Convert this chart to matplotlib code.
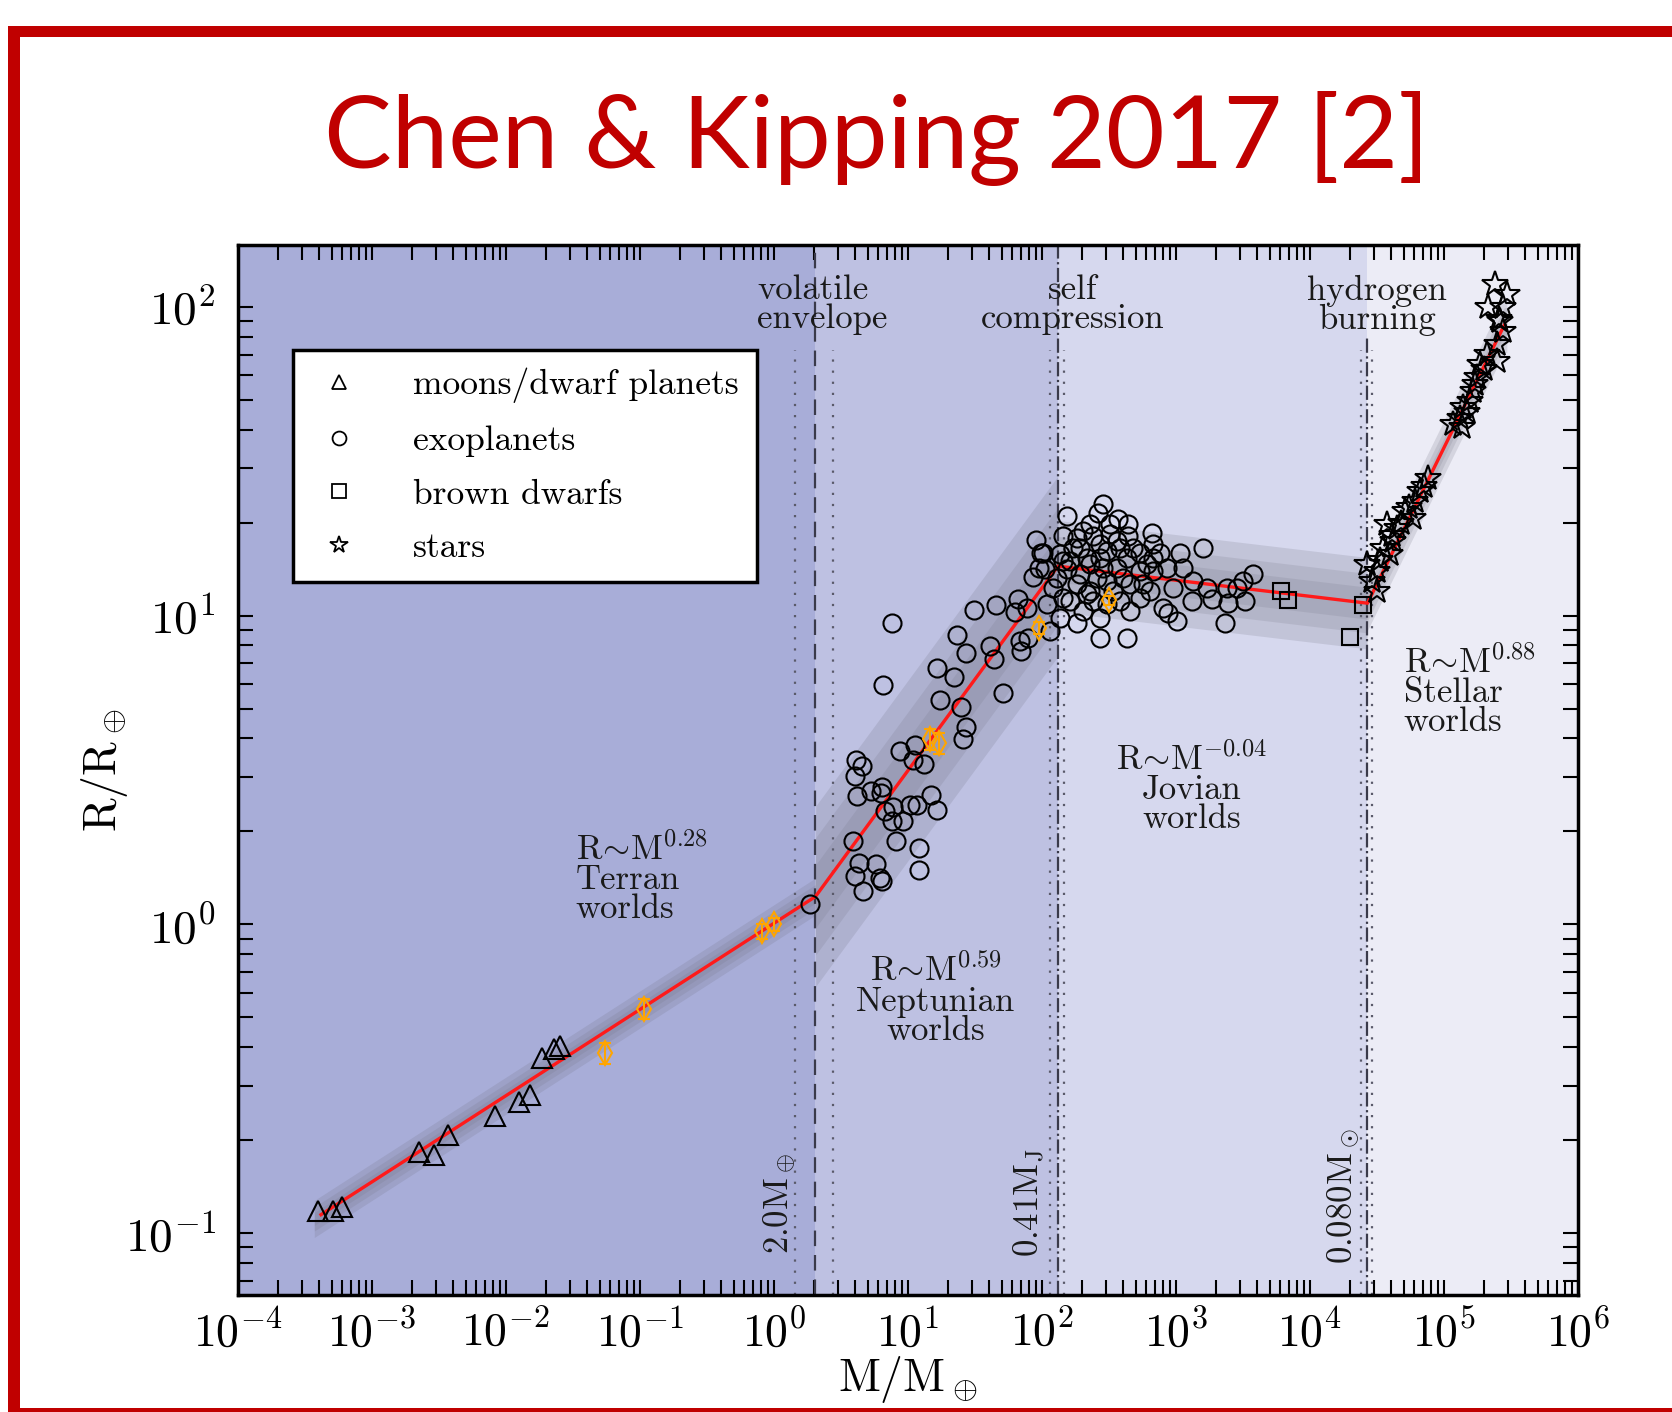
import numpy as np
import matplotlib
matplotlib.use("Agg")
import matplotlib.pyplot as plt
from matplotlib.lines import Line2D
from matplotlib.patches import Rectangle
from matplotlib.ticker import LogLocator, NullFormatter

plt.rcParams["font.family"] = "cmr10"
plt.rcParams["mathtext.fontset"] = "cm"
plt.rcParams["axes.formatter.use_mathtext"] = True

# ---- data (log10 of M/M_earth and R/R_earth) ----
moon_logm = [-3.40, -3.29, -3.22, -2.65, -2.54, -2.43, -2.08, -1.90, -1.82, -1.73, -1.64, -1.60]
moon_logr = [-0.927, -0.927, -0.914, -0.736, -0.746, -0.681, -0.622, -0.574, -0.552, -0.434, -0.405, -0.395]

exo_logm = [
    0.883, 1.495, 1.654, 1.799, 1.363, 1.433, 1.612, 1.642, 1.836, 1.841, 1.893, 0.811, 1.214,
    1.346, 1.711, 1.239, 1.393, 1.431, 1.408, 0.940, 1.052, 1.040, 1.119, 0.612, 0.654, 0.604,
    0.617, 0.722, 0.804, 0.799, 1.172, 1.214, 0.828, 0.886, 1.015, 1.069, 0.878, 0.960, 0.587,
    0.910, 1.084, 0.637, 0.761, 0.604, 0.791, 0.808, 0.666, 1.084, 0.272,
    2.184, 2.457, 2.420, 2.569, 2.644, 2.819, 3.204, 2.159, 2.308, 2.383, 2.507, 2.644, 2.010,
    2.234, 2.483, 2.731, 2.881, 3.030, 3.054, 2.022, 2.184, 2.358, 2.557, 2.781, 2.931, 3.577,
    3.502, 3.453, 3.378, 3.229, 3.129, 2.084, 2.259, 2.483, 2.657, 2.806, 2.980, 3.117, 3.266,
    3.390, 3.515, 2.035, 2.209, 2.383, 2.657, 2.905, 2.943, 2.134, 2.259, 2.433, 3.005, 3.366,
    2.060, 2.433, 2.632, 2.284, 2.334, 2.433, 2.582, 2.632, 2.731, 2.831, 2.284, 2.408, 2.532,
    2.358, 2.209, 2.134, 2.110, 2.582, 2.308, 2.731, 2.831, 2.507, 2.358,
    1.997, 1.975, 1.933, 1.825, 1.890, 1.959,
    2.259, 2.433, 2.557, 2.681, 2.159, 2.457, 2.607, 2.756, 2.334, 2.483, 2.159, 2.831,
]
exo_logr = [
    0.975, 1.017, 1.034, 1.012, 0.936, 0.879, 0.903, 0.858, 0.917, 0.885, 0.928, 0.776, 0.831,
    0.801, 0.748, 0.726, 0.703, 0.639, 0.599, 0.563, 0.582, 0.532, 0.520, 0.531, 0.514, 0.482,
    0.415, 0.431, 0.444, 0.426, 0.420, 0.369, 0.366, 0.379, 0.388, 0.388, 0.334, 0.334, 0.269,
    0.271, 0.247, 0.199, 0.194, 0.156, 0.150, 0.139, 0.107, 0.177, 0.065,
    1.323, 1.360, 1.333, 1.312, 1.296, 1.268, 1.220, 1.258, 1.274, 1.258, 1.263, 1.258, 1.204,
    1.220, 1.209, 1.204, 1.204, 1.204, 1.155, 1.150, 1.150, 1.166, 1.155, 1.166, 1.155, 1.134,
    1.112, 1.090, 1.090, 1.090, 1.112, 1.090, 1.101, 1.112, 1.101, 1.079, 1.090, 1.047, 1.053,
    1.042, 1.047, 1.036, 1.047, 1.047, 1.015, 1.025, 1.009, 0.993, 0.977, 0.993, 0.982, 0.977,
    0.950, 0.928, 0.928, 1.220, 1.187, 1.187, 1.220, 1.187, 1.144, 1.144, 1.134, 1.123, 1.079,
    1.079, 1.177, 1.198, 1.123, 1.047, 1.015, 1.058, 1.231, 1.296, 1.296,
    1.204, 1.155, 1.124, 1.055, 1.024, 1.246,
    1.252, 1.231, 1.241, 1.220, 1.177, 1.155, 1.123, 1.101, 1.069, 1.036, 1.058, 1.187,
]

bd_logm = [3.787, 3.836, 4.396, 4.300]
bd_logr = [1.078, 1.050, 1.034, 0.931]

star_logm = [5.381, 5.468, 5.331, 5.443, 5.418, 5.443, 5.393, 5.319, 5.393, 5.269, 5.244, 5.219,
             5.194, 5.144, 5.119, 5.069, 5.132, 4.883, 4.821, 4.784, 4.709, 4.771, 4.572, 4.647,
             4.622, 4.547, 4.597, 4.423, 4.498, 4.460, 4.498, 5.410, 5.300, 5.230, 5.170,
             4.850, 4.740, 4.680, 4.610, 4.520]
star_logr = [2.074, 2.041, 1.998, 1.998, 1.955, 1.922, 1.879, 1.847, 1.825, 1.814, 1.771, 1.728,
             1.695, 1.674, 1.641, 1.620, 1.609, 1.447, 1.404, 1.371, 1.339, 1.317, 1.296, 1.285,
             1.241, 1.220, 1.198, 1.166, 1.144, 1.112, 1.079, 1.960, 1.800, 1.750, 1.660,
             1.420, 1.350, 1.300, 1.260, 1.180]

# solar system planets (orange)
sol_mass = [0.0553, 0.107, 0.815, 1.0, 14.5, 17.1, 95.2, 317.8]
sol_radius = [0.383, 0.532, 0.950, 1.0, 3.98, 3.86, 9.10, 11.2]
sol_err = [0.03, 0.04, 0.05, 0.05, 0.30, 0.30, 0.40, 0.40]

# best-fit broken power law: vertices and intrinsic scatter per segment
line_logm = [-3.38, 0.31, 2.12, 4.43, 5.45]
line_logr = [-0.94, 0.09, 1.16, 1.04, 1.94]
seg_sigma = [0.030, 0.146, 0.074, 0.044]

# transitions (M/M_earth) and their uncertainty range
trans_mass = [2.04, 131.6, 26600.0]
trans_lo = [1.44, 115.0, 24000.0]
trans_hi = [2.75, 145.0, 29000.0]
trans_labels = [r"2.0M$_\oplus$", r"0.41M$_\mathrm{J}$", r"0.080M$_\odot$"]

region_edges = [1e-4, 2.04, 131.6, 26600.0, 1e6]
region_colors = ["#a8add8", "#bec1e2", "#d6d8ee", "#ececf6"]

# ---- figure ----
fig = plt.figure(figsize=(16.72, 14.12), dpi=100)
ax = fig.add_axes([0.1423, 0.0829, 0.8014, 0.7436])
ax.set_xscale("log")
ax.set_yscale("log")
ax.set_xlim(1e-4, 1e6)
ax.set_ylim(10 ** -1.2, 10 ** 2.2)

for i in range(4):
    ax.axvspan(region_edges[i], region_edges[i + 1], color=region_colors[i], lw=0, zorder=0)

# uncertainty bands
gm = np.linspace(line_logm[0] - 0.05, line_logm[-1] + 0.02, 3000)
gr = np.interp(gm, line_logm, line_logr)
gr[gm < line_logm[0]] = line_logr[0] + 0.279 * (gm[gm < line_logm[0]] - line_logm[0])
seg = np.clip(np.searchsorted(line_logm, gm, side="right") - 1, 0, 3)
w = np.array(seg_sigma)[seg]
for k, a in [(2.0, 0.19), (1.3, 0.17), (0.7, 0.16)]:
    ax.fill_between(10 ** gm, 10 ** (gr - k * w), 10 ** (gr + k * w),
                    color="#6e6e7e", alpha=a, lw=0, zorder=1)

# transition lines
center_styles = [(0, (7, 4)), "-.", "-."]
center_top = [1.0, 1.0, 0.912]
for i in range(3):
    ax.axvline(trans_mass[i], ymin=0, ymax=center_top[i], color="#3a3a4a",
               ls=center_styles[i], lw=1.6, zorder=2)
    for xb in (trans_lo[i], trans_hi[i]):
        ax.axvline(xb, ymin=0, ymax=0.9, color="#5a5a6a", ls=(0, (1, 4)), lw=1.6, zorder=2)

ax.plot(10 ** np.array(line_logm), 10 ** np.array(line_logr), color="#ff1a1a", lw=2.4, zorder=3)

mk = dict(ls="none", mfc="none", mec="black", mew=1.5, zorder=4)
ax.plot(10 ** np.array(moon_logm), 10 ** np.array(moon_logr), marker="^", ms=14, **mk)
ax.plot(10 ** np.array(exo_logm), 10 ** np.array(exo_logr), marker="o", ms=13, **mk)
ax.plot(10 ** np.array(bd_logm), 10 ** np.array(bd_logr), marker="s", ms=12, **mk)
ax.plot(10 ** np.array(star_logm), 10 ** np.array(star_logr), marker="*", ms=19, **mk)

ax.errorbar(sol_mass, sol_radius, yerr=sol_err, fmt="d", mfc="none", mec="#ffa500",
            ecolor="#ffa500", ms=12, mew=1.5, elinewidth=1.5, capsize=4, zorder=5)

# annotations
tc = "#1a1a1a"
fs = 25
ls = 0.9
sim = r"R$\!\sim\!$M"
ax.text(10 ** -0.127, 10 ** 2.104, "volatile\nenvelope", ha="left", va="top", fontsize=fs,
        color=tc, linespacing=ls, zorder=6)
ax.text(10 ** 2.231, 10 ** 2.104, "self\ncompression", ha="center", va="top", fontsize=fs,
        color=tc, linespacing=ls, zorder=6)
ax.text(10 ** 4.50, 10 ** 2.104, "hydrogen\nburning", ha="center", va="top", fontsize=fs,
        color=tc, linespacing=ls, zorder=6)
ax.text(10 ** -1.478, 10 ** 0.30, sim + "$^{0.28}$\nTerran\nworlds", ha="left", va="top",
        fontsize=fs, color=tc, linespacing=ls, zorder=6)
ax.text(10 ** 1.209, 10 ** -0.095, sim + "$^{0.59}$\nNeptunian\nworlds", ha="center",
        va="top", fontsize=fs, color=tc, linespacing=ls, zorder=6)
ax.text(10 ** 3.12, 10 ** 0.59, sim + "$^{-0.04}$\nJovian\nworlds", ha="center",
        va="top", fontsize=fs, color=tc, linespacing=ls, zorder=6)
ax.text(10 ** 4.70, 10 ** 0.905, sim + "$^{0.88}$\nStellar\nworlds", ha="left",
        va="top", fontsize=fs, color=tc, linespacing=ls, zorder=6)

label_x = [10 ** 0.045, 10 ** 1.905, 10 ** 4.255]
label_y = [10 ** -1.066, 10 ** -1.076, 10 ** -1.10]
for lx, ly, lab in zip(label_x, label_y, trans_labels):
    ax.text(lx, ly, lab, rotation=90, ha="center", va="bottom", fontsize=fs, color=tc, zorder=6)

# axes styling
for sp in ax.spines.values():
    sp.set_linewidth(2.5)
for axis in (ax.xaxis, ax.yaxis):
    axis.set_major_locator(LogLocator(base=10, numticks=20))
    axis.set_minor_locator(LogLocator(base=10, subs=np.arange(2, 10), numticks=20))
    axis.set_minor_formatter(NullFormatter())
ax.tick_params(which="both", direction="in", top=True, right=True, length=10.5, width=1.5)
ax.tick_params(axis="x", which="major", labelsize=33, pad=10)
ax.tick_params(axis="y", which="major", labelsize=34, pad=16)
ax.set_xlabel(r"M/M$_\oplus$", fontsize=33, labelpad=-1)
ax.set_ylabel(r"R/R$_\oplus$", fontsize=33, labelpad=-4)

handles = [
    Line2D([], [], ls="none", marker="^", ms=10, mfc="none", mec="black", mew=1.3),
    Line2D([], [], ls="none", marker="o", ms=10, mfc="none", mec="black", mew=1.3),
    Line2D([], [], ls="none", marker="s", ms=10, mfc="none", mec="black", mew=1.3),
    Line2D([], [], ls="none", marker="*", ms=13, mfc="none", mec="black", mew=1.3),
]
leg = ax.legend(handles, ["moons/dwarf planets", "exoplanets", "brown dwarfs", "stars"],
                loc="upper left", bbox_to_anchor=(0.041, 0.9), borderaxespad=0,
                fontsize=25.5, frameon=True, fancybox=False, framealpha=1, edgecolor="black",
                borderpad=0.5, labelspacing=0.62, handlelength=1.6, handletextpad=1.3)
leg.get_frame().set_linewidth(2.5)
leg.set_zorder(7)

# slide frame and title
red = "#c00000"
fig.patches.append(Rectangle((8 / 1672, 0), 1 - 8 / 1672, 4 / 1412, transform=fig.transFigure,
                             color=red, lw=0))
fig.patches.append(Rectangle((8 / 1672, 0), 12 / 1672, 1 - 26 / 1412, transform=fig.transFigure,
                             color=red, lw=0))
fig.patches.append(Rectangle((8 / 1672, 1 - 37 / 1412), 1 - 8 / 1672, 11 / 1412,
                             transform=fig.transFigure, color=red, lw=0))
fig.text(0.5245, 1 - 168 / 1412, "Chen & Kipping 2017 [2]", ha="center", va="baseline",
         fontsize=73, color=red, family="Lato")

fig.savefig("out.png", dpi=100, facecolor="white")
